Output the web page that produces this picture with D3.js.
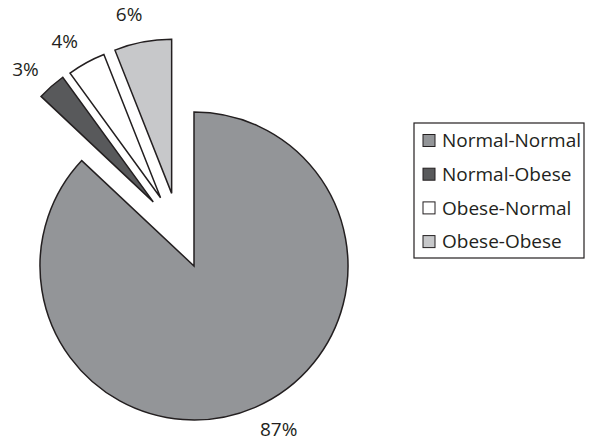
<!DOCTYPE html>
<html>
<head>
<meta charset="utf-8">
<script src="https://cdn.jsdelivr.net/npm/d3@7"></script>
<style>
  body { margin: 0; background: #fff; }
  text { font-family: "Open Sans", sans-serif; fill: #231f20; }
</style>
</head>
<body>
<div id="chart"></div>
<script>
const width = 593, height = 441;
const cx = 194, cy = 266, radius = 154, explode = 76;

// data
const categories = ["Normal-Normal", "Normal-Obese", "Obese-Normal", "Obese-Obese"];
const values = [87, 3, 4, 6];
const labels = ["87%", "3%", "4%", "6%"];
const exploded = [false, true, true, true];
const colors = ["#939598", "#58595b", "#ffffff", "#c7c8ca"];

let svg = d3.select("#chart").
append("svg").
attr("width", width).
attr("height", height);

const pie = d3.pie().sort(null).value(d => d)(values);
const arc = d3.arc().innerRadius(0).outerRadius(radius);

// exploded slices are pushed out roughly toward the middle of the exploded group
const grp = pie.filter((d, i) => exploded[i]);
const grpMid = (d3.min(grp, d => d.startAngle) + d3.max(grp, d => d.endAngle)) / 2;
const mid = d => (d.startAngle + d.endAngle) / 2;
const offsetOf = (d, i) => {
  if (!exploded[i]) return [0, 0];
  const a = grpMid + 0.5 * (mid(d) - grpMid);
  return [Math.sin(a) * explode, -Math.cos(a) * explode];
};

const g = svg.append("g").attr("transform", "translate(" + cx + "," + cy + ")");

g.selectAll("path").
data(pie).
enter().
append("path").
attr("d", arc).
attr("transform", (d, i) => "translate(" + offsetOf(d, i) + ")").
attr("fill", (d, i) => colors[i]).
attr("stroke", "#231f20").
attr("stroke-width", 1.5).
attr("stroke-linejoin", "miter");

const labelPos = (d, i) => {
  const o = offsetOf(d, i);
  const a = mid(d) - (exploded[i] ? 0.045 : 0.07);
  const r = radius + 30;
  return [o[0] + Math.sin(a) * r, o[1] - Math.cos(a) * r];
};

g.selectAll("text.lbl").
data(pie).
enter().
append("text").
attr("class", "lbl").
attr("x", (d, i) => labelPos(d, i)[0]).
attr("y", (d, i) => labelPos(d, i)[1]).
attr("text-anchor", "middle").
attr("dy", "0.36em").
style("font-size", "19px").
text((d, i) => labels[i]);

// legend
const legend = svg.append("g").attr("transform", "translate(414,123)");
legend.append("rect").
attr("width", 170).
attr("height", 135).
attr("fill", "#fff").
attr("stroke", "#231f20").
attr("stroke-width", 1.2);

const rows = legend.selectAll("g.row").
data(categories).
enter().
append("g").
attr("class", "row").
attr("transform", (d, i) => "translate(9," + (17.5 + i * 33.7) + ")");

rows.append("rect").
attr("x", 0).
attr("y", -6).
attr("width", 12).
attr("height", 12).
attr("fill", (d, i) => colors[i]).
attr("stroke", "#231f20").
attr("stroke-width", 1);

rows.append("text").
attr("x", 19).
attr("dy", "0.36em").
style("font-size", "19px").
text(d => d);
</script>
</body>
</html>
